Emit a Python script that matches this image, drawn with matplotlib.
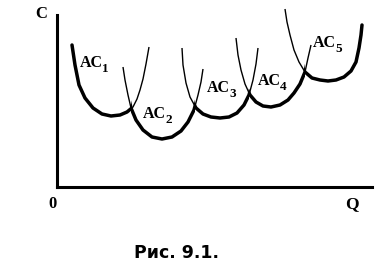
import matplotlib
matplotlib.use("Agg")
import matplotlib.pyplot as plt
from matplotlib.patches import Rectangle

# Short-run average cost curves (Q, C)
ac1_q = [15, 18, 22, 28, 36, 45, 54, 63, 70, 76, 80, 83, 86, 89, 92]
ac1_c = [142, 122, 102, 89, 79, 73, 71, 72, 75, 80, 88, 97, 108, 123, 140]

ac2_q = [66, 68, 71, 74, 79, 86, 95, 105, 115, 124, 131, 137, 141, 144, 146]
ac2_c = [120, 107, 92, 79, 67, 57, 50, 48, 50, 56, 65, 77, 92, 105, 118]

ac3_q = [125, 126, 129, 133, 139, 146, 154, 163, 172, 180, 187, 192, 196, 199, 201]
ac3_c = [139, 122, 104, 90, 79, 73, 70, 69, 70, 74, 82, 92, 107, 123, 139]

ac4_q = [179, 181, 184, 188, 193, 199, 206, 214, 223, 231, 237, 243, 248, 251, 254]
ac4_c = [149, 132, 117, 103, 92, 85, 81, 80, 82, 87, 94, 103, 115, 129, 142]

ac5_q = [228, 230, 233, 237, 242, 248, 255, 263, 271, 279, 287, 294, 299, 302, 304, 305]
ac5_c = [178, 165, 152, 137, 125, 115, 109, 107, 106, 107, 110, 116, 125, 139, 152, 162]

# Q where the lower envelope switches from one curve to the next
switch_q = [74, 138, 192, 248]

label_main = ['AC', 'AC', 'AC', 'AC', 'AC']
label_sub = ['1', '2', '3', '4', '5']
label_q = [23, 86, 150, 201, 256]
label_c = [120, 69, 95, 102, 140]

curves = [(ac1_q, ac1_c), (ac2_q, ac2_c), (ac3_q, ac3_c), (ac4_q, ac4_c), (ac5_q, ac5_c)]

fig = plt.figure(figsize=(3.87, 2.78), dpi=100)
ax = fig.add_axes([57 / 387, 91 / 278, 315 / 387, 172 / 278])
ax.set_xlim(0, 315)
ax.set_ylim(0, 172)
for s in ['top', 'right']:
    ax.spines[s].set_visible(False)
for s in ['left', 'bottom']:
    ax.spines[s].set_linewidth(2.2)
    ax.spines[s].set_color('black')
ax.set_xticks([])
ax.set_yticks([])

renderer = fig.canvas.get_renderer()
bounds = [-1000] + switch_q + [1000]
for i, (q, c) in enumerate(curves):
    ax.plot(q, c, color='black', lw=1.0, clip_on=False, solid_capstyle='butt')
    thick, = ax.plot(q, c, color='black', lw=2.5, solid_capstyle='round',
                     solid_joinstyle='round')
    rect = Rectangle((bounds[i], -500), bounds[i + 1] - bounds[i], 1000,
                     transform=ax.transData, visible=False)
    ax.add_patch(rect)
    thick.set_clip_path(rect)
    t = ax.text(label_q[i], label_c[i], label_main[i], fontsize=11.5,
                fontweight='bold', family='Liberation Serif', ha='left',
                va='baseline', clip_on=False)
    w_pts = t.get_window_extent(renderer).width * 72 / fig.dpi
    ax.annotate(label_sub[i], xy=(label_q[i], label_c[i]),
                xytext=(w_pts - 0.5, -3.5), textcoords='offset points',
                fontsize=9.5, fontweight='bold', family='Liberation Serif',
                ha='left', va='baseline', annotation_clip=False)

ax.text(-16, 173, 'C', fontsize=12, fontweight='bold', family='Liberation Serif',
        ha='center', va='center')
ax.text(-5, -17, '0', fontsize=12, fontweight='bold', family='Liberation Serif',
        ha='center', va='center')
ax.text(295, -17, 'Q', fontsize=12.5, fontweight='bold', family='Liberation Serif',
        ha='center', va='center')
ax.text(119.5, -66.5, 'Рис. 9.1.', fontsize=12.5, fontweight='bold',
        family='DejaVu Sans', ha='center', va='center')

fig.savefig('out.png', dpi=100)
